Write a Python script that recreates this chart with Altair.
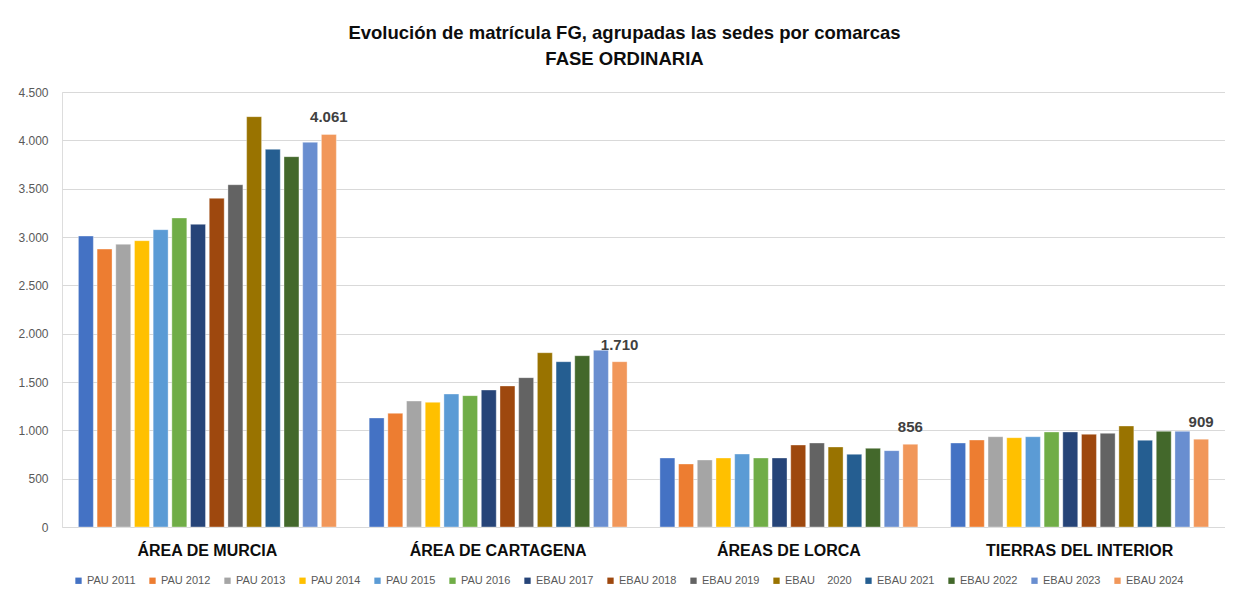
import altair as alt
import pandas as pd

comarcas = ["ÁREA DE MURCIA", "ÁREA DE CARTAGENA", "ÁREAS DE LORCA", "TIERRAS DEL INTERIOR"]
series = ["PAU 2011", "PAU 2012", "PAU 2013", "PAU 2014", "PAU 2015", "PAU 2016",
          "EBAU 2017", "EBAU 2018", "EBAU 2019", "EBAU\u00a0\u00a0\u00a0\u00a02020",
          "EBAU 2021", "EBAU 2022", "EBAU 2023", "EBAU 2024"]
colors = ["#4472C4", "#ED7D31", "#A5A5A5", "#FFC000", "#5B9BD5", "#70AD47",
          "#264478", "#9E480E", "#636363", "#997300", "#255E91", "#43682B",
          "#698ED0", "#F1975A"]

murcia = [3010, 2875, 2925, 2962, 3076, 3197, 3131, 3400, 3541, 4245, 3907, 3831, 3980, 4061]
cartagena = [1128, 1176, 1303, 1290, 1376, 1359, 1417, 1459, 1545, 1803, 1710, 1772, 1828, 1710]
lorca = [714, 652, 693, 714, 755, 714, 714, 848, 869, 828, 752, 814, 790, 856]
interior = [869, 900, 934, 924, 934, 983, 983, 959, 969, 1045, 897, 990, 990, 909]

values_by_comarca = [murcia, cartagena, lorca, interior]
rows = []
for c, vals in zip(comarcas, values_by_comarca):
    for s, v in zip(series, vals):
        rows.append({"comarca": c, "serie": s, "valor": v})
df = pd.DataFrame(rows)

FONT = "Liberation Sans"

x = alt.X("comarca:N", sort=comarcas, title=None,
          scale=alt.Scale(paddingInner=0.1, paddingOuter=0.05),
          axis=alt.Axis(labelAngle=0, labelFontWeight="bold", labelFontSize=16,
                        labelColor="#0d0d0d", labelPadding=15, ticks=False,
                        domain=False, labelFont=FONT, labelLimit=400))
xo = alt.XOffset("serie:N", sort=series,
                 scale=alt.Scale(domain=series, paddingInner=0.2, paddingOuter=0.1))
y = alt.Y("valor:Q", title=None,
          scale=alt.Scale(domain=[0, 4500], nice=False),
          axis=alt.Axis(values=list(range(0, 4501, 500)), ticks=False, domain=False,
                        labelFontSize=12, labelColor="#595959", labelPadding=14,
                        gridColor="#d9d9d9", gridWidth=1, labelFont=FONT,
                        minExtent=54, maxExtent=54,
                        labelExpr="replace(format(datum.value, ','), ',', '.')"))

bars = alt.Chart(df).mark_bar(stroke="white", strokeWidth=0.6, strokeOpacity=0.6).encode(
    x=x, xOffset=xo, y=y,
    color=alt.Color("serie:N", sort=series,
                    scale=alt.Scale(domain=series, range=colors),
                    legend=alt.Legend(title=None, orient="none", direction="horizontal",
                                      columns=14, legendX=11, legendY=483,
                                      symbolType="square", symbolSize=40,
                                      symbolStrokeWidth=0,
                                      labelFontSize=11, labelColor="#595959",
                                      labelFont=FONT, columnPadding=11,
                                      labelOffset=3)),
)

labels = alt.Chart(df).transform_filter(
    alt.datum.serie == "EBAU 2024"
).transform_calculate(
    txt="replace(format(datum.valor, ','), ',', '.')"
).mark_text(fontSize=15, fontWeight="bold", color="#404040", dy=-12,
            baseline="alphabetic", font=FONT).encode(
    x=x, xOffset=xo, y=y, text="txt:N"
)

chart = alt.layer(bars, labels).properties(
    width=1163, height=435,
    padding={"left": 0, "top": 15, "right": 0, "bottom": 0},
    title=alt.Title(["Evolución de matrícula FG, agrupadas las sedes por comarcas",
                     "FASE ORDINARIA"],
                    fontSize=18.5, fontWeight="bold", color="#0d0d0d", font=FONT,
                    anchor="middle", lineHeight=26, offset=18, baseline="top", dx=-19),
).configure_view(stroke=None).configure(background="white")

chart.save("out.html", embed_options={"renderer": "svg", "actions": False})
